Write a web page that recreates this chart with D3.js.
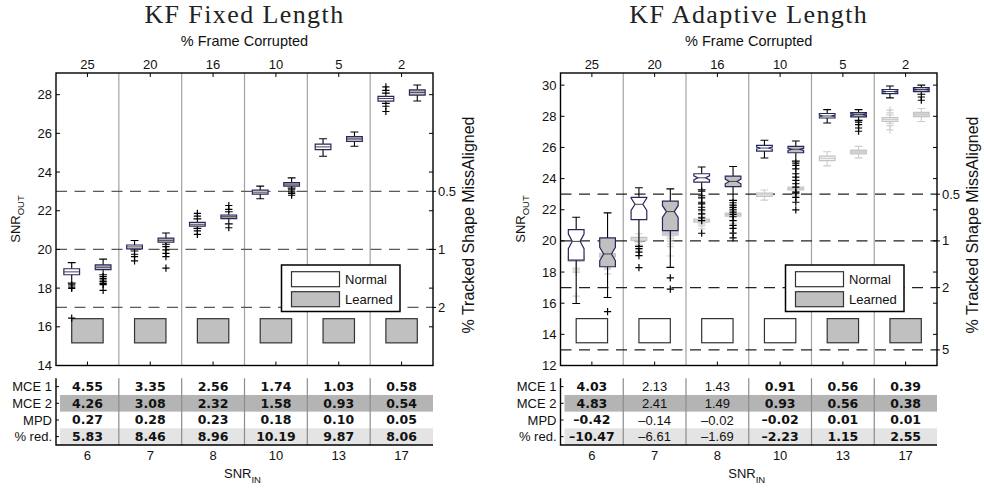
<!DOCTYPE html>
<html><head><meta charset="utf-8">
<script src="https://cdn.jsdelivr.net/npm/d3@7"></script>
<style>
body{margin:0;background:#fff}
svg{display:block}
text{font-family:"Liberation Sans",Arial,Helvetica,sans-serif;fill:#111}
</style>
</head><body>
<svg id="chart" width="984" height="490"></svg>
<script>
// ---------- data ----------
const snrIn = ["6", "7", "8", "10", "13", "17"];
const frameCorrupted = ["25", "20", "16", "10", "5", "2"];
const methods = ["Normal", "Learned"];

// box statistics per SNR level: [lower whisker, Q1, median, Q3, upper whisker]
const fixedNormal = [
  [18.26, 18.69, 18.84, 19.00, 19.32],
  [19.92, 20.03, 20.13, 20.23, 20.46],
  [21.09, 21.20, 21.30, 21.40, 21.58],
  [22.62, 22.86, 22.96, 23.07, 23.27],
  [24.82, 25.16, 25.30, 25.44, 25.72],
  [27.55, 27.67, 27.80, 27.91, 28.08]
];
const fixedNormalOut = [
  [18.17, 18.05, 17.98, 16.45],
  [19.75, 19.63, 19.41],
  [21.72, 21.86, 20.96, 20.78],
  [],
  [],
  [28.22, 28.40, 27.40, 27.13]
];
const fixedLearned = [
  [18.69, 18.96, 19.08, 19.20, 19.50],
  [20.27, 20.37, 20.47, 20.58, 20.85],
  [21.32, 21.59, 21.69, 21.78, 21.95],
  [23.17, 23.27, 23.38, 23.46, 23.70],
  [25.33, 25.58, 25.71, 25.83, 26.07],
  [27.67, 27.98, 28.12, 28.25, 28.50]
];
const fixedLearnedOut = [
  [18.60, 18.50, 18.42, 18.34, 18.25, 18.18, 17.88],
  [20.15, 19.98, 19.80, 19.63, 19.03],
  [22.07, 22.27, 21.12],
  [23.08, 22.98, 22.90, 22.80],
  [],
  []
];

const adaptiveNormal = [
  [15.98, 18.77, 19.97, 20.72, 21.52],
  [19.65, 21.37, 22.35, 22.80, 23.41],
  [23.28, 23.77, 24.05, 24.31, 24.74],
  [25.32, 25.77, 25.96, 26.13, 26.46],
  [27.57, 27.89, 28.02, 28.18, 28.43],
  [29.18, 29.46, 29.59, 29.72, 29.95]
];
const adaptiveNormalNotch = [0.47, 0.40, 0.13, 0.06, 0.05, 0.04];
const adaptiveNormalOut = [
  [],
  [19.50, 19.28, 19.05, 18.28],
  [23.19, 22.90, 22.76, 22.48, 22.38, 22.16, 21.99, 21.74, 21.48, 21.30, 20.49],
  [],
  [],
  []
];
const adaptiveLearned = [
  [16.37, 18.34, 19.16, 20.19, 21.80],
  [18.30, 20.66, 21.88, 22.55, 23.34],
  [22.60, 23.49, 23.82, 24.16, 24.78],
  [25.12, 25.66, 25.88, 26.07, 26.41],
  [27.74, 27.96, 28.11, 28.24, 28.43],
  [29.42, 29.59, 29.72, 29.85, 30.00]
];
const adaptiveLearnedNotch = [0.43, 0.38, 0.15, 0.07, 0.05, 0.04];
const adaptiveLearnedOut = [
  [15.46],
  [17.62, 16.90],
  [22.45, 22.30, 22.15, 22.00, 21.85, 21.70, 21.55, 21.30, 21.00, 20.80, 20.50, 20.20],
  [24.99, 24.85, 24.63, 24.31, 24.09, 23.88, 23.67, 23.45, 23.13, 23.06, 22.80, 22.48, 21.99],
  [27.63, 27.47, 27.25, 27.04],
  [29.24, 29.03]
];

// which method tracks the shape better at each level
const fixedWinner = ["Learned", "Learned", "Learned", "Learned", "Learned", "Learned"];
const adaptiveWinner = ["Normal", "Normal", "Normal", "Normal", "Learned", "Learned"];

// summary table
const tableRows = ["MCE 1", "MCE 2", "MPD", "% red."];
const fixedMCE1 = [4.55, 3.35, 2.56, 1.74, 1.03, 0.58];
const fixedMCE2 = [4.26, 3.08, 2.32, 1.58, 0.93, 0.54];
const fixedMPD = [0.27, 0.28, 0.23, 0.18, 0.10, 0.05];
const fixedRed = [5.83, 8.46, 8.96, 10.19, 9.87, 8.06];
const fixedBold = [true, true, true, true, true, true];
const adaptiveMCE1 = [4.03, 2.13, 1.43, 0.91, 0.56, 0.39];
const adaptiveMCE2 = [4.83, 2.41, 1.49, 0.93, 0.56, 0.38];
const adaptiveMPD = [-0.42, -0.14, -0.02, -0.02, 0.01, 0.01];
const adaptiveRed = [-10.47, -6.61, -1.69, -2.23, 1.15, 2.55];
const adaptiveBold = [true, false, false, true, true, true];

// reference lines: SNR_OUT level and the matching % tracked-shape misalignment
const fixedRefLevels = [23, 20, 17];
const fixedRefLabels = ["0.5", "1", "2"];
const adaptiveRefLevels = [23, 20, 17, 13];
const adaptiveRefLabels = ["0.5", "1", "2", "5"];

// ---------- layout ----------
const svg = d3.select("#chart");
const TOP = 73, BOT = 365.5;
const TBL_TOP = 378.3, ROW_H = 16.67;
const TBL_BOT = TBL_TOP + 4 * ROW_H;
const fillColor = {Normal: "#ffffff", Learned: "#c0c0c0"};
const ghostFill = {Normal: "#f3f3f3", Learned: "#d9d9d9"};

const panels = [
  {
    title: "KF Fixed Length", x0: 56, x1: 433, domain: [14, 29.12], ticks: d3.range(14, 29, 2),
    boxes: [fixedNormal, fixedLearned], outs: [fixedNormalOut, fixedLearnedOut], notches: null,
    ghost: false, winner: fixedWinner, winBand: [15.17, 16.42], dash: "#5a5a5a",
    refLevels: fixedRefLevels, refLabels: fixedRefLabels,
    table: [fixedMCE1, fixedMCE2, fixedMPD, fixedRed], bold: fixedBold
  },
  {
    title: "KF Adaptive Length", x0: 560.5, x1: 937, domain: [12, 30.78], ticks: d3.range(12, 31, 2),
    boxes: [adaptiveNormal, adaptiveLearned], outs: [adaptiveNormalOut, adaptiveLearnedOut],
    notches: [adaptiveNormalNotch, adaptiveLearnedNotch],
    ghost: true, winner: adaptiveWinner, winBand: [13.46, 15.01], dash: "#222",
    refLevels: adaptiveRefLevels, refLabels: adaptiveRefLabels,
    table: [adaptiveMCE1, adaptiveMCE2, adaptiveMPD, adaptiveRed], bold: adaptiveBold
  }
];

function plus(g, x, yv, color) {
  const s = 3.6;
  g.append("path").attr("d", `M${x - s},${yv}H${x + s}M${x},${yv - s}V${yv + s}`)
    .attr("stroke", color).attr("stroke-width", 1.2).attr("fill", "none");
}

function drawBox(g, cx, w, st, notch, y, outs, sty, method) {
  const [lo, q1, med, q3, hi] = st;
  const l = cx - w / 2, r = cx + w / 2, cap = w / 4;
  // whiskers + caps
  g.append("path")
    .attr("d", `M${cx},${y(q3)}V${y(hi)}M${cx - cap},${y(hi)}H${cx + cap}M${cx},${y(q1)}V${y(lo)}M${cx - cap},${y(lo)}H${cx + cap}`)
    .attr("stroke", sty.whisker).attr("stroke-width", 1.1).attr("fill", "none");
  // box body
  let d, ml = l, mr = r;
  if (notch) {
    const inset = w / 4;
    const nt = Math.min(med + notch, q3), nb = Math.max(med - notch, q1);
    d = `M${l},${y(q3)}H${r}V${y(nt)}L${r - inset},${y(med)}L${r},${y(nb)}V${y(q1)}H${l}V${y(nb)}L${l + inset},${y(med)}L${l},${y(nt)}Z`;
    ml = l + inset; mr = r - inset;
  } else {
    d = `M${l},${y(q3)}H${r}V${y(q1)}H${l}Z`;
  }
  g.append("path").attr("d", d).attr("fill", sty.fill[method])
    .attr("stroke", sty.box).attr("stroke-width", 1.2);
  g.append("line").attr("x1", ml).attr("x2", mr).attr("y1", y(med)).attr("y2", y(med))
    .attr("stroke", sty.median).attr("stroke-width", 1);
  outs.forEach(o => plus(g, cx, y(o), sty.out));
}

panels.forEach(p => {
  const g = svg.append("g");
  const y = d3.scaleLinear().domain(p.domain).range([BOT, TOP]);
  const band = d3.scaleBand().domain(snrIn).range([p.x0, p.x1]).paddingInner(0).paddingOuter(0);
  const bw = band.bandwidth();
  const cx = i => band(snrIn[i]) + bw / 2;
  const offset = d3.scaleOrdinal().domain(methods).range([-bw / 4, bw / 4]);
  const boxW = bw / 4;

  // title and top labels
  g.append("text").attr("x", (p.x0 + p.x1) / 2).attr("y", 23).attr("text-anchor", "middle")
    .style("font-family", "'Liberation Serif','Times New Roman',serif").style("font-size", "26px")
    .style("letter-spacing", "1.4px").style("fill", "#222")
    .text(p.title);
  g.append("text").attr("x", (p.x0 + p.x1) / 2).attr("y", 46).attr("text-anchor", "middle")
    .style("font-size", "14.5px").text("% Frame Corrupted");
  frameCorrupted.forEach((f, i) => {
    g.append("text").attr("x", cx(i)).attr("y", 69).attr("text-anchor", "middle")
      .style("font-size", "13px").text(f);
  });

  // group separators (plot + table)
  snrIn.slice(1).forEach(s => {
    const x = band(s);
    g.append("line").attr("x1", x).attr("x2", x).attr("y1", TOP).attr("y2", BOT)
      .attr("stroke", "#a3a3a3").attr("stroke-width", 1.2);
  });

  // reference dashed lines and right labels
  p.refLevels.forEach((v, i) => {
    g.append("line").attr("x1", p.x0).attr("x2", p.x1).attr("y1", y(v)).attr("y2", y(v))
      .attr("stroke", p.dash).attr("stroke-width", 1.2).attr("stroke-dasharray", "11,7.5");
    g.append("line").attr("x1", p.x1).attr("x2", p.x1 + 3).attr("y1", y(v)).attr("y2", y(v))
      .attr("stroke", "#000").attr("stroke-width", 1);
    g.append("text").attr("x", p.x1 + 5).attr("y", y(v)).attr("dy", "0.35em")
      .style("font-size", "13px").text(p.refLabels[i]);
  });

  // winner indicator rectangles
  p.winner.forEach((m, i) => {
    g.append("rect").attr("x", cx(i) - bw / 4).attr("width", bw / 2)
      .attr("y", y(p.winBand[1])).attr("height", y(p.winBand[0]) - y(p.winBand[1]))
      .attr("fill", fillColor[m]).attr("stroke", "#333").attr("stroke-width", 1.2);
  });

  // fixed-length results as faded reference in the adaptive panel
  if (p.ghost) {
    const gs = {whisker: "#cdcdcd", box: "#c4c4c4", fill: ghostFill, median: "#c8c8c8", out: "#cfcfcf"};
    methods.forEach((m, k) => {
      const src = k === 0 ? fixedNormal : fixedLearned;
      const srcOut = k === 0 ? fixedNormalOut : fixedLearnedOut;
      src.forEach((st, i) => drawBox(g, cx(i) + offset(m), boxW, st, null, y, srcOut[i], gs, m));
    });
  }

  const ms = {whisker: "#000", box: "#27275f", fill: fillColor, median: "#444", out: "#000"};
  methods.forEach((m, k) => {
    p.boxes[k].forEach((st, i) => {
      const n = p.notches ? p.notches[k][i] : null;
      drawBox(g, cx(i) + offset(m), boxW, st, n, y, p.outs[k][i], ms, m);
    });
  });

  // frame, ticks
  g.append("rect").attr("x", p.x0).attr("y", TOP).attr("width", p.x1 - p.x0).attr("height", BOT - TOP)
    .attr("fill", "none").attr("stroke", "#000").attr("stroke-width", 1.4);
  p.ticks.forEach(t => {
    g.append("path").attr("d", `M${p.x0},${y(t)}h4M${p.x1},${y(t)}h-4`)
      .attr("stroke", "#000").attr("stroke-width", 1);
    g.append("text").attr("x", p.x0 - 4).attr("y", y(t)).attr("dy", "0.35em")
      .attr("text-anchor", "end").style("font-size", "13px").text(t);
  });
  snrIn.forEach((s, i) => {
    g.append("path").attr("d", `M${cx(i)},${TOP}v4M${cx(i)},${BOT}v-4`)
      .attr("stroke", "#000").attr("stroke-width", 1);
  });

  // legend
  const lw = 118.5, lh = 46.5, lx = p.x1 - 33 - lw, ly = 265;
  const lg = g.append("g").attr("transform", `translate(${lx},${ly})`);
  lg.append("rect").attr("width", lw).attr("height", lh).attr("fill", "#fff")
    .attr("stroke", "#000").attr("stroke-width", 1.5);
  methods.forEach((m, k) => {
    lg.append("rect").attr("x", 10).attr("y", 6.7 + k * 20).attr("width", 48).attr("height", 15)
      .attr("fill", fillColor[m]).attr("stroke", "#333").attr("stroke-width", 1.2);
    lg.append("text").attr("x", 63.5).attr("y", 14.2 + k * 20).attr("dy", "0.35em")
      .style("font-size", "13px").text(m);
  });

  // axis titles
  const yl = g.append("text").attr("transform", `translate(${p.x0 - 36},219) rotate(-90)`)
    .attr("text-anchor", "middle").style("font-size", "13px");
  yl.append("tspan").text("SNR");
  yl.append("tspan").attr("dy", 4).style("font-size", "9.5px").text("OUT");
  g.append("text").attr("transform", `translate(${p.x1 + 41},225) rotate(-90)`)
    .attr("text-anchor", "middle").style("font-size", "16px").text("% Tracked Shape MissAligned");

  // summary table
  const rowBg = [null, "#b4b4b4", null, "#e4e4e4"];
  rowBg.forEach((c, r) => {
    if (c) g.append("rect").attr("x", p.x0 + 4).attr("y", TBL_TOP + r * ROW_H)
      .attr("width", p.x1 - p.x0 - 4).attr("height", ROW_H).attr("fill", c);
  });
  snrIn.slice(1).forEach(s => {
    const x = band(s);
    g.append("line").attr("x1", x).attr("x2", x).attr("y1", TBL_TOP).attr("y2", TBL_BOT)
      .attr("stroke", "#8c8c8c").attr("stroke-width", 1.2);
  });
  g.append("path").attr("d", `M${p.x0},${TBL_TOP}V${TBL_BOT}H${p.x1}`)
    .attr("fill", "none").attr("stroke", "#000").attr("stroke-width", 1.4);
  tableRows.forEach((lab, r) => {
    const yc = TBL_TOP + (r + 0.5) * ROW_H;
    g.append("path").attr("d", `M${p.x0},${yc}h3`).attr("stroke", "#000");
    g.append("text").attr("x", p.x0 - 4).attr("y", yc).attr("dy", "0.35em")
      .attr("text-anchor", "end").style("font-size", "13px").text(lab);
    p.table[r].forEach((v, i) => {
      const b = p.bold[i];
      g.append("text").attr("x", cx(i)).attr("y", yc).attr("dy", "0.36em")
        .attr("text-anchor", "middle")
        .style("font-family", b ? "'DejaVu Sans',sans-serif" : "'Liberation Sans',Arial,sans-serif")
        .style("font-weight", b ? "bold" : "normal")
        .style("font-size", b ? "12.5px" : "13px")
        .text(v.toFixed(2).replace("-", "\u2013"));
    });
  });
  snrIn.forEach((s, i) => {
    g.append("text").attr("x", cx(i)).attr("y", 460).attr("text-anchor", "middle")
      .style("font-size", "13px").text(s);
  });
  const xl = g.append("text").attr("x", (p.x0 + p.x1) / 2 - 2).attr("y", 478)
    .attr("text-anchor", "middle").style("font-size", "13px");
  xl.append("tspan").text("SNR");
  xl.append("tspan").attr("dy", 5).style("font-size", "9.5px").text("IN");
});
</script>
</body></html>
